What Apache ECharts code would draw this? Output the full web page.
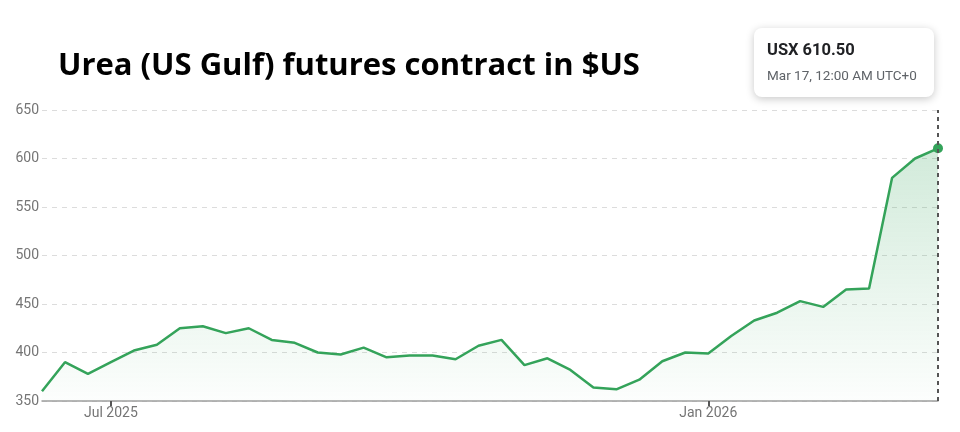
<!DOCTYPE html>
<html>
<head>
<meta charset="utf-8">
<script src="https://cdn.jsdelivr.net/npm/echarts@6/dist/echarts.min.js"></script>
<style>
  html, body { margin: 0; padding: 0; background: #fff; }
  #chart { width: 960px; height: 432px; }
</style>
</head>
<body>
<div id="chart"></div>
<script>
// weekly settlement dates
var dates = [
    'Jun 17, 2025', 'Jun 24, 2025', 'Jul 1, 2025', 'Jul 8, 2025', 'Jul 15, 2025',
    'Jul 22, 2025', 'Jul 29, 2025', 'Aug 5, 2025', 'Aug 12, 2025', 'Aug 19, 2025',
    'Aug 26, 2025', 'Sep 2, 2025', 'Sep 9, 2025', 'Sep 16, 2025', 'Sep 23, 2025',
    'Sep 30, 2025', 'Oct 7, 2025', 'Oct 14, 2025', 'Oct 21, 2025', 'Oct 28, 2025',
    'Nov 4, 2025', 'Nov 11, 2025', 'Nov 18, 2025', 'Nov 25, 2025', 'Dec 2, 2025',
    'Dec 9, 2025', 'Dec 16, 2025', 'Dec 23, 2025', 'Dec 30, 2025', 'Jan 6, 2026',
    'Jan 13, 2026', 'Jan 20, 2026', 'Jan 27, 2026', 'Feb 3, 2026', 'Feb 10, 2026',
    'Feb 17, 2026', 'Feb 24, 2026', 'Mar 3, 2026', 'Mar 10, 2026', 'Mar 17, 2026'
]
var prices = [
    360, 390, 378, 390, 402, 408, 425, 427, 420, 425,
    413, 410, 400, 398, 405, 395, 397, 397, 393, 407,
    413, 387, 394, 382, 364, 362, 372, 391, 400, 399,
    417, 433, 441, 453, 447, 465, 466, 580, 600, 610.5
]
// x axis labels, by data index
var tickIndex = [3, 29]
var tickText = ['Jul 2025', 'Jan 2026']

var green = '#34a35a'
var lastIdx = prices.length - 1

var seriesData = prices.map(function (v, i) {
    if (i === lastIdx) {
        return { value: v, symbol: 'circle', symbolSize: 10 }
    }
    return v
})

var chart = echarts.init(document.querySelector('#chart'))
chart.setOption({
    animation: false,
    grid: { left: 42, right: 22, top: 110, bottom: 31 },
    xAxis: {
        type: 'category',
        data: dates,
        boundaryGap: false,
        axisLine: { lineStyle: { color: '#9e9e9e', width: 1.5 } },
        axisTick: {
            show: true,
            length: 5,
            lineStyle: { color: '#555', width: 2 },
            interval: function (i) { return tickIndex.indexOf(i) >= 0 }
        },
        axisLabel: {
            interval: function (i) { return tickIndex.indexOf(i) >= 0 },
            formatter: function (v, i) { return tickText[tickIndex.indexOf(i)] },
            color: '#757575',
            fontFamily: 'Roboto',
            fontSize: 14,
            margin: 5
        },
        splitLine: { show: false }
    },
    yAxis: {
        type: 'value',
        min: 350,
        max: 650,
        interval: 50,
        axisLine: { show: false },
        axisTick: { show: false },
        axisLabel: {
            color: '#757575',
            fontFamily: 'Roboto',
            fontSize: 14,
            margin: 3
        },
        splitLine: { lineStyle: { color: '#dcdcdc', type: [5, 5], width: 1 } }
    },
    series: [{
        type: 'line',
        data: seriesData,
        symbol: 'none',
        lineStyle: { color: green, width: 2.5 },
        itemStyle: { color: green },
        areaStyle: {
            color: new echarts.graphic.LinearGradient(0, 0, 0, 1, [
                { offset: 0, color: 'rgba(52,163,90,0.32)' },
                { offset: 1, color: 'rgba(52,163,90,0.02)' }
            ])
        },
        markLine: {
            silent: true,
            symbol: 'none',
            label: { show: false },
            lineStyle: { color: '#555', type: [4, 4], width: 2 },
            data: [{ xAxis: dates[lastIdx] }]
        }
    }],
    graphic: [
        {
            type: 'text',
            left: 58,
            top: 51,
            style: {
                text: 'Urea (US Gulf) futures contract in $US',
                fontFamily: 'Open Sans',
                fontWeight: 'bold',
                fontSize: 31,
                fill: '#000'
            }
        },
        {
            type: 'rect',
            shape: { x: 754, y: 28, width: 180, height: 69, r: 8 },
            style: {
                fill: '#fff',
                shadowBlur: 8,
                shadowOffsetY: 2,
                shadowColor: 'rgba(0,0,0,0.22)'
            }
        },
        {
            type: 'text',
            left: 767,
            top: 42,
            style: {
                text: 'USX ' + prices[lastIdx].toFixed(2),
                fontFamily: 'Roboto',
                fontWeight: 'bold',
                fontSize: 16.5,
                fill: '#202124'
            }
        },
        {
            type: 'text',
            left: 767,
            top: 70,
            style: {
                text: dates[lastIdx].slice(0, 6) + ', 12:00 AM UTC+0',
                fontFamily: 'Roboto',
                fontSize: 13.5,
                fill: '#5f6368'
            }
        }
    ]
})
</script>
</body>
</html>
